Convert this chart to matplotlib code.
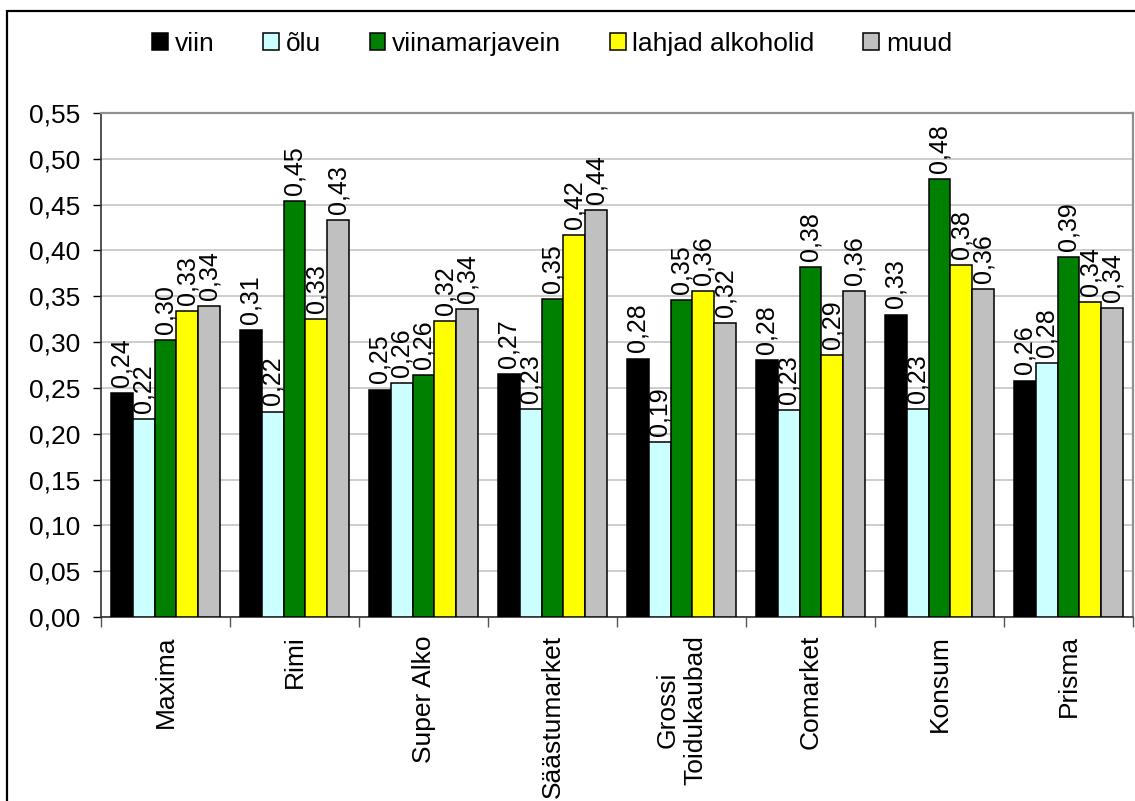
import matplotlib
matplotlib.use("Agg")
import matplotlib.pyplot as plt
from matplotlib.patches import Rectangle
import numpy as np

plt.rcParams['font.family'] = ['Liberation Sans', 'DejaVu Sans']

categories = ["Maxima", "Rimi", "Super Alko", "Säästumarket", "Grossi\nToidukaubad",
              "Comarket", "Konsum", "Prisma"]
series_names = ["viin", "õlu", "viinamarjavein", "lahjad alkoholid", "muud"]
viin = [0.244, 0.313, 0.248, 0.265, 0.282, 0.280, 0.330, 0.258]
olu = [0.216, 0.224, 0.255, 0.227, 0.191, 0.226, 0.227, 0.277]
viinamarjavein = [0.302, 0.454, 0.264, 0.347, 0.346, 0.382, 0.478, 0.393]
lahjad = [0.334, 0.325, 0.323, 0.417, 0.356, 0.286, 0.384, 0.344]
muud = [0.339, 0.433, 0.336, 0.444, 0.321, 0.356, 0.358, 0.337]
series = [viin, olu, viinamarjavein, lahjad, muud]
colors = ["#000000", "#CCFFFF", "#008000", "#FFFF00", "#C0C0C0"]
yticks = [0.00, 0.05, 0.10, 0.15, 0.20, 0.25, 0.30, 0.35, 0.40, 0.45, 0.50, 0.55]

W, H = 1135, 801
fig = plt.figure(figsize=(W / 100, H / 100), dpi=100)
ax = fig.add_axes([101 / W, (H - 617) / H, 1032 / W, 504 / H])

# outer chart frame
fig.patches.append(Rectangle((7 / W, -0.05), 1.2, 1.05 - 11 / H, transform=fig.transFigure,
                             fill=False, edgecolor="black", linewidth=1.6, zorder=0))

n = len(categories)
bw = 0.169
x = np.arange(n) + 0.5
handles = []
for i, (vals, col, name) in enumerate(zip(series, colors, series_names)):
    pos = x + (i - 2) * bw
    b = ax.bar(pos, vals, width=bw, color=col, edgecolor="black", linewidth=1.1,
               label=name, zorder=3)
    handles.append(b)
    for px, v in zip(pos, vals):
        ax.annotate(f"{v:.2f}".replace(".", ","), (px, v), xytext=(0, 4.5),
                    textcoords="offset points", rotation=90, ha="center", va="bottom",
                    fontsize=18, zorder=4)

ax.set_xlim(0, n)
ax.set_ylim(0, 0.55)
ax.set_yticks(yticks)
ax.set_yticklabels([f"{t:.2f}".replace(".", ",") for t in yticks], fontsize=19)
ax.tick_params(axis="y", direction="out", length=6, width=1, pad=9, colors="black")
ax.yaxis.grid(True, color="#C0C0C0", linewidth=1.1, zorder=0)
ax.set_axisbelow(True)

ax.set_xticks(np.arange(n + 1))
ax.set_xticklabels([])
ax.tick_params(axis="x", which="major", direction="out", length=7, width=1, color="#555555")
ax.set_xticks(x, minor=True)
ax.set_xticklabels(categories, minor=True, rotation=90, fontsize=19, ha="center", va="top",
                   multialignment="center")
ax.tick_params(axis="x", which="minor", length=0, pad=13)

for s in ["left", "bottom"]:
    ax.spines[s].set_color("#333333")
    ax.spines[s].set_linewidth(1.2)
for s in ["top", "right"]:
    ax.spines[s].set_color("#909090")
    ax.spines[s].set_linewidth(1.6)

fig.legend(handles=handles, labels=series_names, loc="center", bbox_to_anchor=(552 / W, 1 - 44 / H),
           ncol=5, frameon=False, fontsize=19, handlelength=0.6, handleheight=0.6,
           handletextpad=0.25, columnspacing=1.85, borderaxespad=0)

fig.savefig("out.png", dpi=100)
